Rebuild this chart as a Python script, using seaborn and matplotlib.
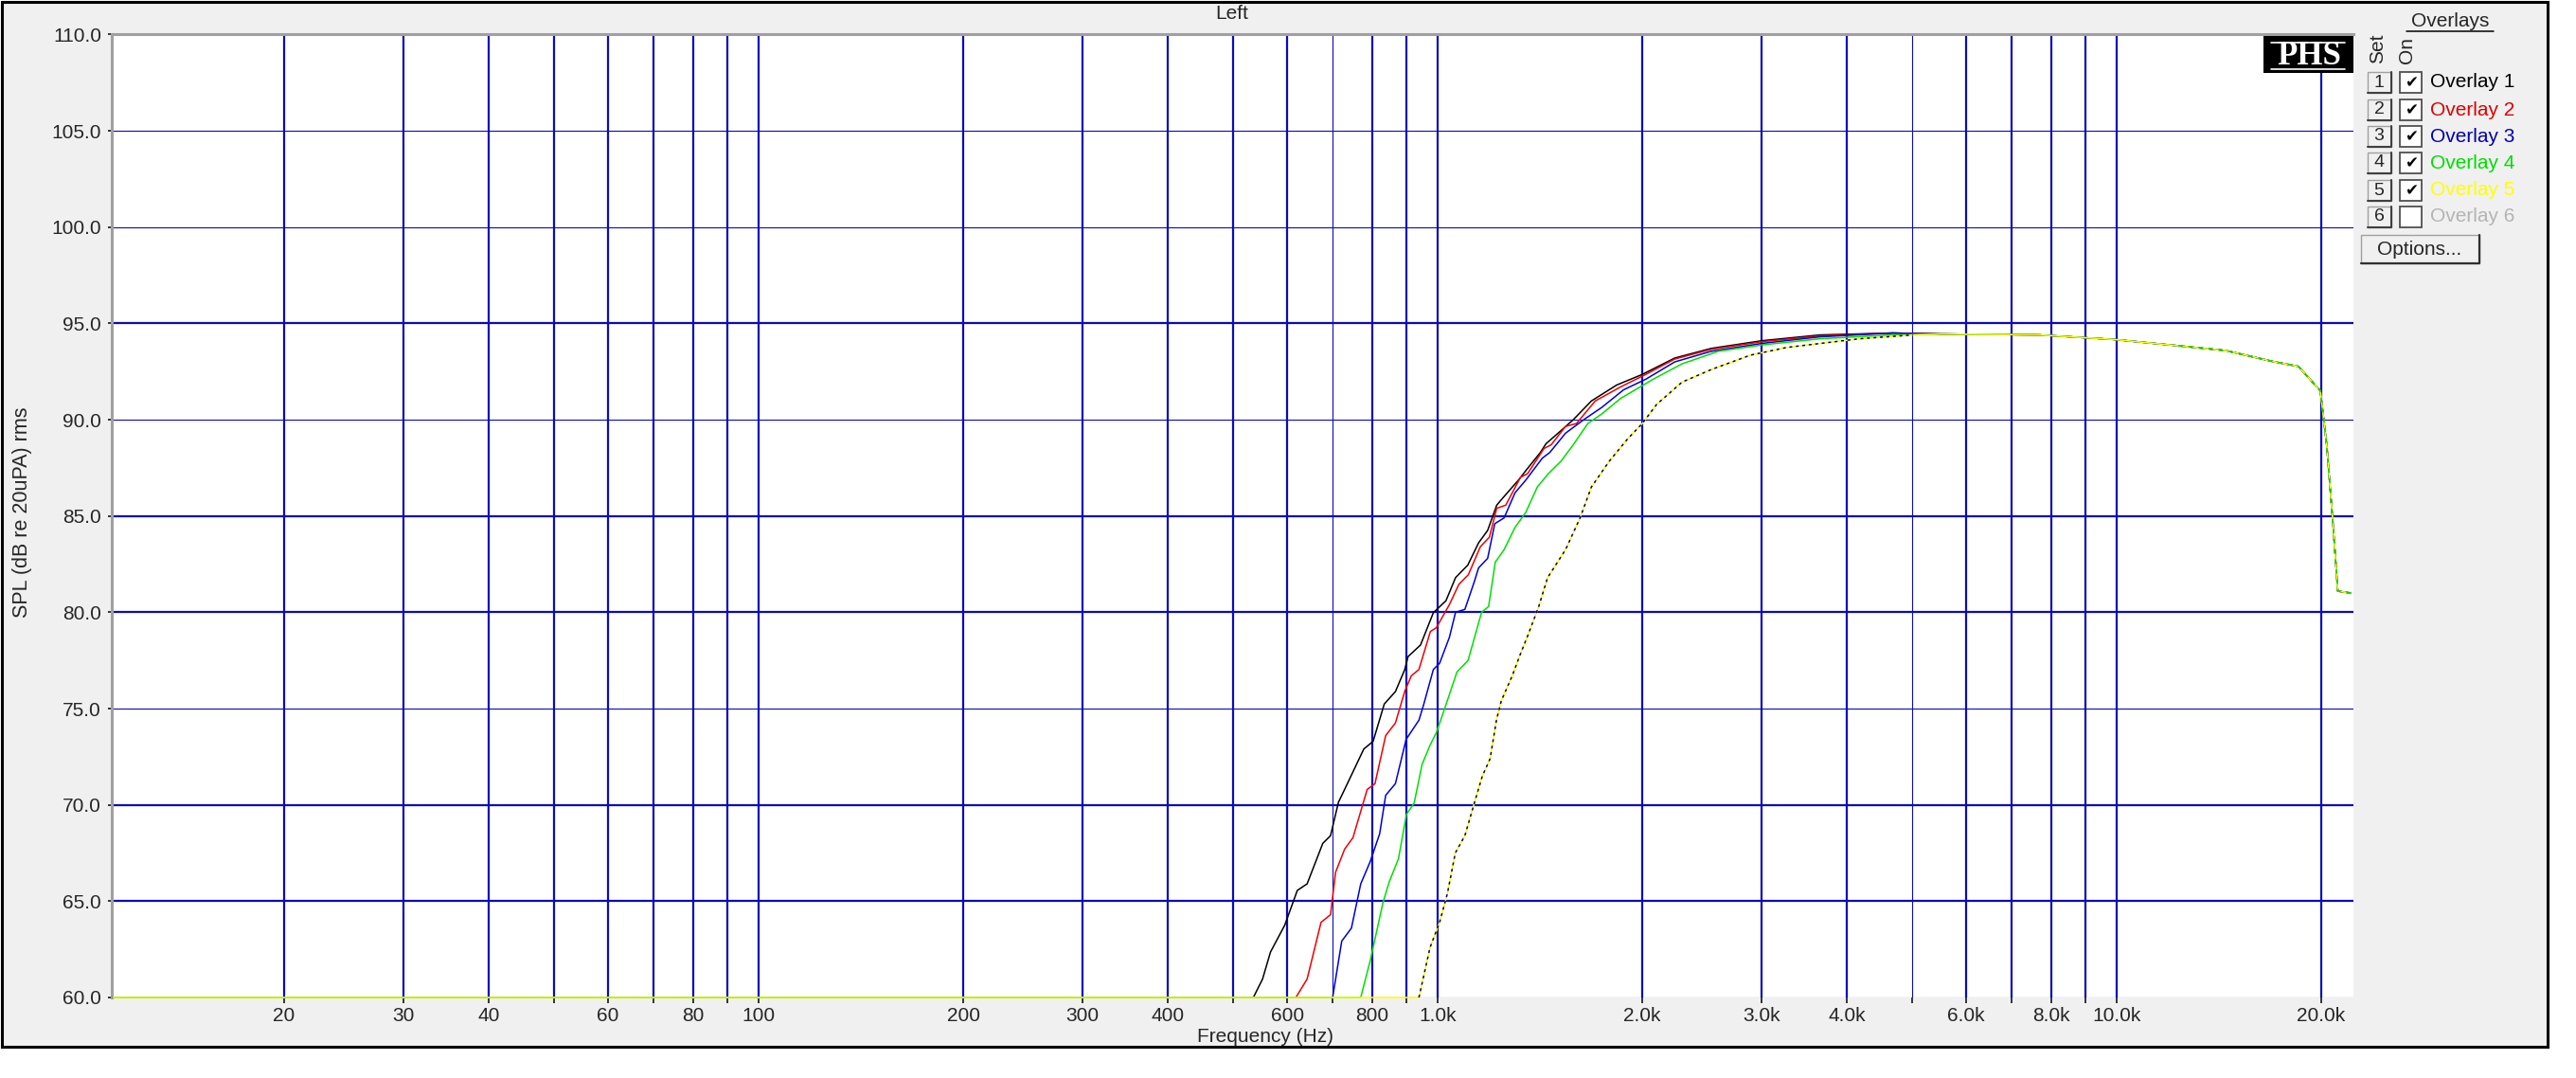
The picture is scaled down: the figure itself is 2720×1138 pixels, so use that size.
import matplotlib.pyplot as plt
import numpy as np
import pandas as pd
import seaborn as sns
from matplotlib.patches import Rectangle
from matplotlib.lines import Line2D

# 1. Data (frequency in Hz, SPL in dB)
#    below 60 dB every trace sits on the bottom of the window
overlay_names = ['Overlay 1', 'Overlay 2', 'Overlay 3', 'Overlay 4', 'Overlay 5']
overlay_colors = ['#000000', '#F00000', '#0000D8', '#00E000', '#FFFF00']

black_freq = [11.2, 535, 552, 567, 595, 621, 642, 677, 695, 714, 729, 778,
              803, 834, 866, 894, 904, 943, 985, 1028, 1062, 1107, 1148,
              1184, 1221, 1244, 1315, 1348, 1416, 1443, 1526, 1583, 1683,
              1834, 2000, 2233, 2526, 3000, 3652, 4670]
black_spl = [60, 60, 60.96, 62.36, 63.75, 65.56, 65.9, 68.0, 68.4, 70.14,
             70.8, 72.9, 73.3, 75.24, 75.88, 77.03, 77.7, 78.3, 79.98, 80.6,
             81.8, 82.45, 83.6, 84.25, 85.56, 85.9, 86.87, 87.36, 88.3,
             88.75, 89.5, 90.0, 90.97, 91.8, 92.35, 93.2, 93.7, 94.1, 94.4,
             94.5]

red_freq = [11.2, 618, 642, 673, 695, 707, 729, 750, 787, 808, 838, 866,
            894, 914, 938, 975, 995, 1040, 1074, 1109, 1155, 1191, 1221,
            1259, 1323, 1356, 1433, 1469, 1542, 1600, 1705, 1858, 2024,
            2233, 2526, 3000, 3652, 4670]
red_spl = [60, 60, 60.96, 63.9, 64.3, 66.5, 67.7, 68.3, 70.8, 71.1, 73.6,
           74.25, 75.9, 76.7, 77.03, 79.0, 79.2, 80.4, 81.45, 81.95, 83.4,
           83.9, 85.4, 85.56, 87.0, 87.2, 88.5, 88.7, 89.65, 89.8, 90.97,
           91.7, 92.35, 93.15, 93.65, 94.05, 94.35, 94.5]

blue_freq = [11.2, 700, 722, 746, 770, 795, 821, 838, 866, 884, 898, 938,
             953, 985, 1006, 1040, 1062, 1096, 1132, 1148, 1184, 1213, 1252,
             1299, 1348, 1425, 1462, 1542, 1640, 1744, 1877, 2024, 2233,
             2526, 3000, 3652, 4670]
blue_spl = [60, 60, 62.93, 63.6, 65.9, 67.05, 68.5, 70.5, 71.1, 72.4, 73.4,
            74.4, 75.2, 77.03, 77.35, 78.7, 80.0, 80.15, 81.6, 82.3, 82.8,
            84.6, 84.9, 86.2, 86.87, 88.0, 88.3, 89.3, 90.0, 90.64, 91.55,
            92.1, 93.0, 93.55, 93.96, 94.3, 94.5]

green_freq = [11.2, 770, 795, 830, 848, 875, 899, 923, 948, 974, 995, 1028,
              1067, 1108, 1160, 1188, 1215, 1252, 1299, 1348, 1401, 1455,
              1519, 1583, 1663, 1744, 1858, 2075, 2289, 2588, 3000, 3652,
              4670]
green_spl = [60, 60, 61.9, 64.9, 66.0, 67.2, 69.5, 70.1, 72.1, 73.1, 73.75,
             75.2, 76.9, 77.5, 80.0, 80.3, 82.6, 83.25, 84.4, 85.2, 86.5,
             87.2, 87.85, 88.7, 89.8, 90.3, 91.1, 92.1, 92.9, 93.55, 93.88,
             94.2, 94.4]

yellow_freq = [11.2, 938, 974, 1006, 1033, 1061, 1096, 1132, 1163, 1194,
               1220, 1240, 1287, 1322, 1357, 1408, 1451, 1542, 1620, 1683,
               1789, 1903, 2000, 2101, 2289, 2526, 2886, 3264, 4173, 5012]
yellow_spl = [60, 60, 62.6, 63.9, 65.4, 67.5, 68.4, 70.1, 71.5, 72.4, 74.4,
              75.4, 76.7, 77.8, 78.8, 80.3, 81.8, 83.25, 84.9, 86.5, 87.85,
              89.0, 89.8, 90.8, 91.95, 92.6, 93.35, 93.75, 94.2, 94.4]

# all five overlays run together above ~5 kHz
tail_freq = [5500, 7690, 9941, 12313, 14460, 16979, 18497, 19935, 20370,
             20807, 21150, 22090]
tail_spl = [94.45, 94.4, 94.16, 93.84, 93.59, 93.02, 92.77, 91.5, 88.67,
            84.58, 81.1, 81.0]

grid_freqs = [20, 30, 40, 50, 60, 70, 80, 90, 100, 200, 300, 400, 500, 600,
              700, 800, 900, 1000, 2000, 3000, 4000, 5000, 6000, 7000, 8000,
              9000, 10000, 20000]
grid_labels = ['20', '30', '40', '', '60', '', '80', '', '100', '200', '300',
               '400', '', '600', '', '800', '', '1.0k', '2.0k', '3.0k',
               '4.0k', '', '6.0k', '', '8.0k', '', '10.0k', '20.0k']
spl_ticks = [60, 65, 70, 75, 80, 85, 90, 95, 100, 105, 110]
thin_freqs = [700, 5000]
thin_spls = [60, 75, 90, 100, 105]

legend_colors = ['#000000', '#E00000', '#0000B0', '#00DD00', '#FFFF00', '#B4B4B4']

curves = [(black_freq, black_spl), (red_freq, red_spl), (blue_freq, blue_spl),
          (green_freq, green_spl), (yellow_freq, yellow_spl)]
frames = []
for name, (f, s) in zip(overlay_names, curves):
    frames.append(pd.DataFrame({'freq': f + tail_freq, 'spl': s + tail_spl,
                                'overlay': name}))
df = pd.concat(frames, ignore_index=True)

# 2. Figure
sns.set_style('white')
plt.rcParams['font.family'] = ['Liberation Sans', 'DejaVu Sans']

W, H = 2720, 1138
fig = plt.figure(figsize=(W / 100, H / 100), dpi=100)
fig.patch.set_facecolor('white')


def fx(x):
    return x / W


def fy(y):
    return 1 - y / H


# window background with black frame
fig.add_artist(Rectangle((fx(2), fy(1105)), fx(2690) - fx(2), fy(2) - fy(1105),
                         transform=fig.transFigure, facecolor='#F0F0F0',
                         edgecolor='black', lw=2.2, zorder=-5))

ax = fig.add_axes([fx(118), fy(1053), fx(2485) - fx(118), fy(36.4) - fy(1053)])
ax.set_facecolor('white')

grid_color = '#0A0ABE'
for f in grid_freqs:
    ax.axvline(f, color=grid_color, lw=0.8 if f in thin_freqs else 1.6,
               zorder=1)
for s in spl_ticks:
    ax.axhline(s, color=grid_color, lw=0.8 if s in thin_spls else 1.6,
               zorder=1)

sns.lineplot(data=df, x='freq', y='spl', hue='overlay',
             palette=dict(zip(overlay_names, overlay_colors)),
             hue_order=overlay_names, estimator=None, sort=False,
             legend=False, linewidth=1.1, ax=ax, zorder=3)

# overlay 5 shows a dark dashed trace on its rising part
rise = df[(df['overlay'] == 'Overlay 5') & (df['freq'] > 900) & (df['freq'] < 5500)]
sns.lineplot(data=rise, x='freq', y='spl', estimator=None, sort=False,
             color='#000070', linewidth=1.1, linestyle=(0, (2, 2.5)),
             ax=ax, zorder=4)
# and green dashes on the shared high end
top = df[(df['overlay'] == 'Overlay 4') & (df['freq'] >= 12000)]
sns.lineplot(data=top, x='freq', y='spl', estimator=None, sort=False,
             color='#00D000', linewidth=1.1, linestyle=(0, (3, 4)),
             ax=ax, zorder=4)
for line in ax.lines:
    if line.get_zorder() >= 3:
        line.set_clip_on(False)

ax.set_xscale('log')
ax.set_xlim(11.15, 22300)
ax.set_ylim(60, 110)
ax.set_xticks(grid_freqs)
ax.set_xticklabels(grid_labels)
ax.minorticks_off()
ax.set_yticks(spl_ticks)
ax.set_yticklabels([f'{v:.1f}' for v in spl_ticks])
ax.tick_params(axis='x', direction='out', length=4.5, width=1.1,
               color='black', pad=3, labelsize=15, bottom=True)
ax.tick_params(axis='y', direction='out', length=3, width=1.1,
               color='black', pad=5, labelsize=15, left=True)
ax.set_xlabel('')
ax.set_ylabel('')
for side in ['right', 'bottom']:
    ax.spines[side].set_visible(False)
for side in ['left', 'top']:
    ax.spines[side].set_color('#A0A0A0')
    ax.spines[side].set_linewidth(2.2)

fig.text(fx(1301), fy(15), 'Left', ha='center', va='center', fontsize=15)
fig.text(fx(24), fy(541), 'SPL (dB re 20uPA) rms', rotation=90,
         ha='center', va='center', fontsize=15.5)
fig.text(fx(1264), fy(1094), 'Frequency (Hz)', ha='left', va='center',
         fontsize=15)

# PHS logo
fig.add_artist(Rectangle((fx(2390), fy(77)), fx(2485) - fx(2390),
                         fy(38) - fy(77), transform=fig.transFigure,
                         facecolor='black', edgecolor='none', zorder=5))
for yy in [45, 73]:
    fig.add_artist(Line2D([fx(2398), fx(2476)], [fy(yy), fy(yy)],
                          color='white', lw=1.2, zorder=6))
fig.text(fx(2438), fy(59), 'PHS', ha='center', va='center', color='white',
         fontsize=25, fontweight='bold', family='Liberation Serif', zorder=7)

# 3. Overlay panel
fig.text(fx(2587), fy(23), 'Overlays', ha='center', va='center', fontsize=15)
fig.add_artist(Line2D([fx(2541), fx(2633)], [fy(33), fy(33)], color='black',
                      lw=1.1))
fig.text(fx(2511), fy(51), 'Set', rotation=90, ha='center', va='center',
         fontsize=15)
fig.text(fx(2541), fy(53), 'On', rotation=90, ha='center', va='center',
         fontsize=15)

row_y = [87, 116, 144, 172, 201, 229]
for i, cy in enumerate(row_y):
    # numbered button
    fig.add_artist(Rectangle((fx(2500), fy(cy + 11)), fx(25), fy(0) - fy(22),
                             transform=fig.transFigure, facecolor='#F0F0F0',
                             edgecolor='#A0A0A0', lw=1))
    fig.add_artist(Line2D([fx(2500), fx(2525), fx(2525)],
                          [fy(cy + 11), fy(cy + 11), fy(cy - 11)],
                          color='#404040', lw=1.5))
    fig.text(fx(2512), fy(cy), str(i + 1), ha='center', va='center',
             fontsize=14)
    # check box
    fig.add_artist(Rectangle((fx(2534), fy(cy + 11)), fx(23), fy(0) - fy(22),
                             transform=fig.transFigure, facecolor='white',
                             edgecolor='#505050', lw=1.3))
    if i < 5:
        fig.text(fx(2546), fy(cy), '\u2714', ha='center', va='center',
                 fontsize=12, family='DejaVu Sans', color='black')
    label = 'Overlay %d' % (i + 1)
    fig.text(fx(2566), fy(cy), label, ha='left', va='center', fontsize=15,
             color=legend_colors[i])

# Options button
fig.add_artist(Rectangle((fx(2493), fy(278)), fx(125), fy(0) - fy(30),
                         transform=fig.transFigure, facecolor='#F0F0F0',
                         edgecolor='#A0A0A0', lw=1))
fig.add_artist(Line2D([fx(2493), fx(2618), fx(2618)],
                      [fy(278), fy(278), fy(248)], color='#303030', lw=1.6))
fig.text(fx(2555), fy(263), 'Options...', ha='center', va='center',
         fontsize=15)

fig.savefig('out.png', dpi=100)
